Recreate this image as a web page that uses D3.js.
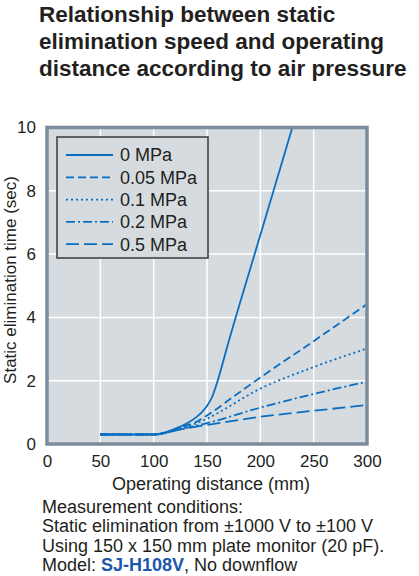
<!DOCTYPE html>
<html>
<head>
<meta charset="utf-8">
<script src="https://cdn.jsdelivr.net/npm/d3@7"></script>
<style>
  body { margin: 0; background: #fff; }
  svg { display: block; font-family: "Liberation Sans", Arial, Helvetica, sans-serif; }
</style>
</head>
<body>
<div id="chart"></div>
<script>
// chart data
var titleLines = ["Relationship between static", "elimination speed and operating", "distance according to air pressure"];
var xTicks = [0, 50, 100, 150, 200, 250, 300];
var yTicks = [0, 2, 4, 6, 8, 10];
var seriesNames = ["0 MPa", "0.05 MPa", "0.1 MPa", "0.2 MPa", "0.5 MPa"];

var dist0 = [50, 100, 110, 120, 130, 140, 145, 150, 155, 160, 170, 200, 230];
var time0 = [0.3, 0.3, 0.36, 0.48, 0.63, 0.85, 1.0, 1.2, 1.5, 2.0, 3.2, 6.6, 10];
var dist005 = [50, 100, 110, 120, 130, 140, 150, 175, 200, 250, 300];
var time005 = [0.3, 0.3, 0.35, 0.46, 0.58, 0.7, 0.9, 1.5, 2.1, 3.25, 4.42];
var dist01 = [50, 100, 110, 120, 130, 140, 150, 200, 250, 300];
var time01 = [0.3, 0.3, 0.35, 0.45, 0.55, 0.65, 0.8, 1.75, 2.43, 3.02];
var dist02 = [50, 100, 110, 120, 130, 140, 150, 200, 250, 300];
var time02 = [0.3, 0.3, 0.34, 0.43, 0.51, 0.58, 0.66, 1.15, 1.58, 1.97];
var dist05 = [50, 100, 110, 120, 130, 140, 150, 200, 250, 300];
var time05 = [0.3, 0.3, 0.34, 0.42, 0.49, 0.55, 0.6, 0.86, 1.05, 1.23];

var notes = ["Measurement conditions:",
  "Static elimination from \u00b11000 V to \u00b1100 V",
  "Using 150 x 150 mm plate monitor (20 pF)."];

var series = [
  { name: seriesNames[0], x: dist0, y: time0, dash: null },
  { name: seriesNames[1], x: dist005, y: time005, dash: "8,4" },
  { name: seriesNames[2], x: dist01, y: time01, dash: "2,3" },
  { name: seriesNames[3], x: dist02, y: time02, dash: "9,3,2,3" },
  { name: seriesNames[4], x: dist05, y: time05, dash: "13,5" }
];

var W = 419, H = 576;
var pLeft = 47, pRight = 367, pTop = 127.5, pBottom = 444;
var blue = "#0a6ec0", ink = "#231f20";

var svg = d3.select("#chart").append("svg").attr("width", W).attr("height", H);

//title
svg.append("g").selectAll("text")
  .data(titleLines)
  .enter().append("text")
  .attr("x", 39)
  .attr("y", function (d, i) { return 22 + i * 27; })
  .attr("font-size", "22.5px")
  .attr("font-weight", "bold")
  .attr("fill", ink)
  .text(function (d) { return d; });

var x = d3.scaleLinear().domain([0, 300]).range([pLeft, pRight]);
var y = d3.scaleLinear().domain([0, 10]).range([pBottom, pTop]);

//plot background
svg.append("rect")
  .attr("x", pLeft).attr("y", pTop)
  .attr("width", pRight - pLeft).attr("height", pBottom - pTop)
  .attr("fill", "#d6dbe0");

//grid
svg.append("g").selectAll("line")
  .data(xTicks.slice(1, -1))
  .enter().append("line")
  .attr("x1", function (d) { return x(d); }).attr("x2", function (d) { return x(d); })
  .attr("y1", pTop).attr("y2", pBottom)
  .attr("stroke", "#fff").attr("stroke-width", 1.5);
svg.append("g").selectAll("line")
  .data(yTicks.slice(1, -1))
  .enter().append("line")
  .attr("y1", function (d) { return y(d); }).attr("y2", function (d) { return y(d); })
  .attr("x1", pLeft).attr("x2", pRight)
  .attr("stroke", "#fff").attr("stroke-width", 1.5);

//axes
var xAxis = svg.append("g")
  .attr("transform", "translate(0," + pBottom + ")")
  .call(d3.axisBottom(x).tickValues(xTicks).tickSize(0).tickPadding(11));
var yAxis = svg.append("g")
  .attr("transform", "translate(" + pLeft + ",0)")
  .call(d3.axisLeft(y).tickValues(yTicks).tickSize(0).tickPadding(11));
[xAxis, yAxis].forEach(function (a) {
  a.select(".domain").remove();
  a.selectAll("text")
    .attr("font-size", "17px")
    .attr("font-family", "\"Liberation Sans\", Arial, sans-serif")
    .attr("fill", ink);
});

svg.append("text")
  .attr("x", 211).attr("y", 490)
  .attr("text-anchor", "middle")
  .attr("font-size", "18px").attr("fill", ink)
  .text("Operating distance (mm)");

svg.append("text")
  .attr("transform", "translate(16,280) rotate(-90)")
  .attr("text-anchor", "middle")
  .attr("font-size", "17px").attr("fill", ink)
  .text("Static elimination time (sec)");

//curves
svg.append("clipPath").attr("id", "plotClip")
  .append("rect")
  .attr("x", pLeft).attr("y", pTop)
  .attr("width", pRight - pLeft).attr("height", pBottom - pTop);

var line = d3.line()
  .x(function (d) { return x(d[0]); })
  .y(function (d) { return y(d[1]); })
  .curve(d3.curveMonotoneX);

svg.append("g").attr("clip-path", "url(#plotClip)")
  .selectAll("path")
  .data(series)
  .enter().append("path")
  .attr("d", function (s) { return line(d3.zip(s.x, s.y)); })
  .attr("fill", "none")
  .attr("stroke", blue)
  .attr("stroke-width", 1.8)
  .attr("stroke-dasharray", function (s) { return s.dash; });

//frame
svg.append("rect")
  .attr("x", pLeft).attr("y", pTop)
  .attr("width", pRight - pLeft).attr("height", pBottom - pTop)
  .attr("fill", "none")
  .attr("stroke", "#7b8d9c")
  .attr("stroke-width", 3.5);

//legend
var legend = svg.append("g");
legend.append("rect")
  .attr("x", 57).attr("y", 137)
  .attr("width", 151).attr("height", 121)
  .attr("fill", "#d6dbe0")
  .attr("stroke", "#3a3a3a")
  .attr("stroke-width", 1.5);
var rows = legend.selectAll("g.row")
  .data(series)
  .enter().append("g")
  .attr("transform", function (d, i) { return "translate(0," + (155 + i * 22.3) + ")"; });
rows.append("line")
  .attr("x1", 66).attr("x2", 113)
  .attr("stroke", blue).attr("stroke-width", 1.8)
  .attr("stroke-dasharray", function (s) { return s.dash; });
rows.append("text")
  .attr("x", 120).attr("dy", "0.36em")
  .attr("font-size", "18px").attr("fill", ink)
  .text(function (s) { return s.name; });

//notes
var noteG = svg.append("g");
noteG.selectAll("text")
  .data(notes)
  .enter().append("text")
  .attr("x", 42)
  .attr("y", function (d, i) { return 513 + i * 19.3; })
  .attr("font-size", "18px").attr("fill", ink)
  .text(function (d) { return d; });
var model = noteG.append("text")
  .attr("x", 42).attr("y", 571)
  .attr("font-size", "18px").attr("fill", ink);
model.append("tspan").text("Model: ");
model.append("tspan").attr("font-weight", "bold").attr("fill", "#1d57a8").text("SJ-H108V");
model.append("tspan").text(", No downflow");
</script>
</body>
</html>
